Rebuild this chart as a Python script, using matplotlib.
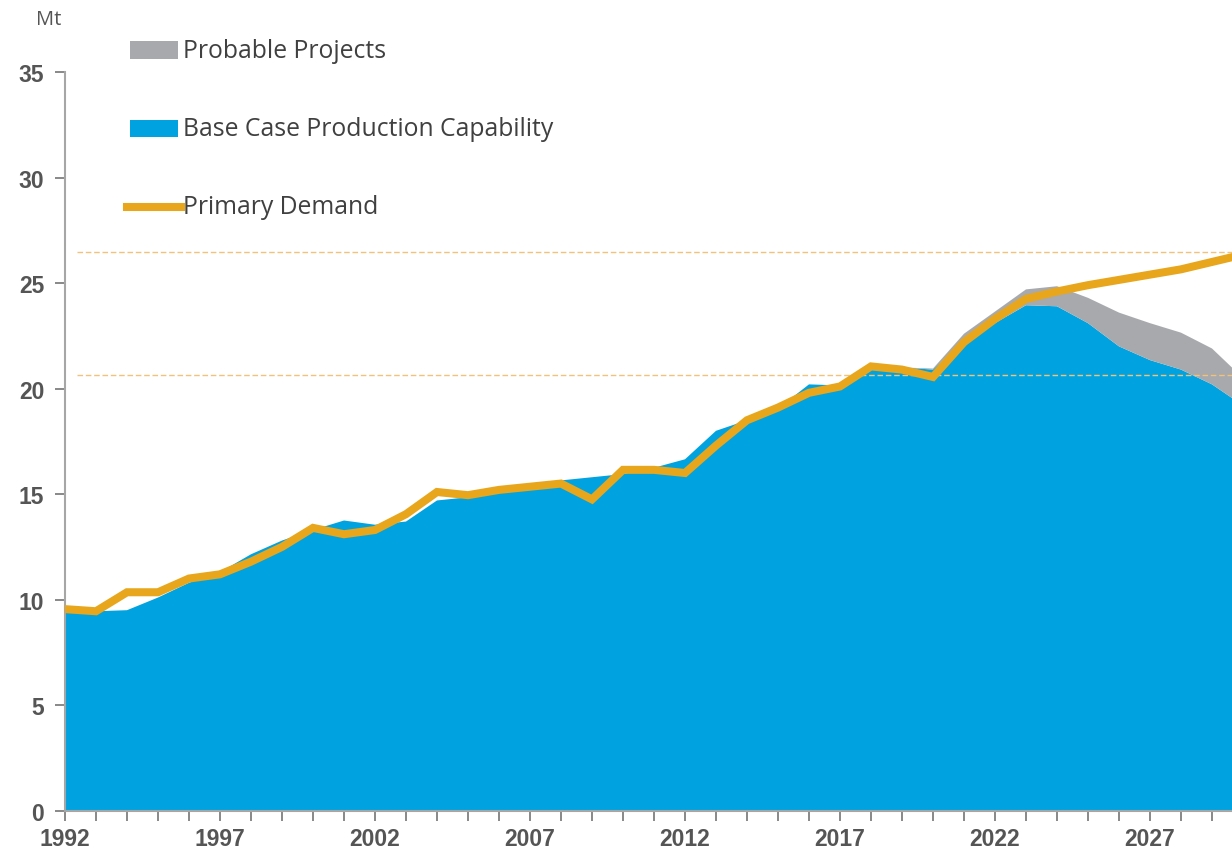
import numpy as np
import matplotlib.pyplot as plt
from matplotlib.patches import Rectangle
from matplotlib.lines import Line2D

# --- data (Mt) ---
years = np.arange(1992, 2031)

base_case = [9.4, 9.45, 9.5, 10.1, 10.8, 11.3, 12.15, 12.8, 13.3, 13.75,
             13.55, 13.7, 14.7, 14.85, 15.25, 15.5, 15.65, 15.8, 15.95, 16.25,
             16.65, 18.0, 18.5, 19.05, 20.2, 20.15, 20.9, 21.0, 20.9, 22.3,
             23.1, 23.95, 23.9, 23.1, 22.0, 21.35, 20.9, 20.2, 19.2]

probable = [0] * 28 + [0.05, 0.3, 0.55, 0.75, 0.95, 1.2, 1.6, 1.75, 1.75, 1.7, 1.3]

demand = [9.55, 9.45, 10.35, 10.35, 11.0, 11.2, 11.8, 12.5, 13.4, 13.1,
          13.3, 14.05, 15.1, 14.95, 15.2, 15.35, 15.5, 14.75, 16.15, 16.15,
          16.0, 17.3, 18.5, 19.1, 19.8, 20.1, 21.05, 20.9, 20.55, 22.2,
          23.3, 24.25, 24.6, 24.9, 25.15, 25.4, 25.65, 26.0, 26.35]

ref_levels = [26.45, 20.65]

labels = ["Probable Projects", "Base Case Production Capability", "Primary Demand"]

blue = "#00A3E0"
grey = "#A7A9AC"
orange = "#E8A61C"
text_col = "#555555"

fig = plt.figure(figsize=(12.32, 8.54), dpi=100)
ax = fig.add_axes([65 / 1232, 42.3 / 854, 1167 / 1232, 738.7 / 854])

ax.stackplot(years, base_case, probable, colors=[blue, grey], linewidth=0)
ax.plot(years, demand, color=orange, lw=5.8, solid_joinstyle="miter", zorder=3)

for lvl in ref_levels:
    ax.axhline(lvl, xmin=0.01, xmax=1, color="#F3C27A", lw=1, ls=(0, (4, 2)), zorder=1)

ax.set_xlim(1992, 1992 + 1167 / 31)
ax.set_ylim(0, 35)
ax.set_yticks(range(0, 36, 5))
ax.set_xticks(range(1992, 2030, 5))
ax.set_xticks(range(1992, 2030), minor=True)

for s in ["top", "right"]:
    ax.spines[s].set_visible(False)
for s in ["left", "bottom"]:
    ax.spines[s].set_color("#A6A6A6")
    ax.spines[s].set_linewidth(1.5)

ax.tick_params(axis="both", which="both", color="#7F7F7F", width=1.3, length=7,
               labelcolor=text_col)
ax.tick_params(axis="y", pad=8)
ax.tick_params(axis="x", pad=5)
for lab in ax.get_xticklabels() + ax.get_yticklabels():
    lab.set_fontfamily("Liberation Sans")
    lab.set_fontweight("bold")
    lab.set_fontsize(16.5)

fig.text(36 / 1232, 1 - 20 / 854, "Mt", fontsize=14.5, color=text_col,
         family="Open Sans", va="center", ha="left")

# --- legend drawn by hand at the top left ---
rows_y = [51, 129, 208]
for i, (lab, y) in enumerate(zip(labels, rows_y)):
    yf = 1 - y / 854
    if i < 2:
        fig.patches.append(Rectangle((130 / 1232, yf - 8.5 / 854), 48 / 1232, 17 / 854,
                                     transform=fig.transFigure,
                                     color=[grey, blue][i], lw=0))
    else:
        fig.lines.append(Line2D([127 / 1232, 181 / 1232], [yf, yf],
                                transform=fig.transFigure, color=orange, lw=5.8))
    fig.text(183 / 1232, yf, lab, fontsize=17.8, family="Open Sans",
             color="#404040", va="center", ha="left")

fig.savefig("out.png", dpi=100)
